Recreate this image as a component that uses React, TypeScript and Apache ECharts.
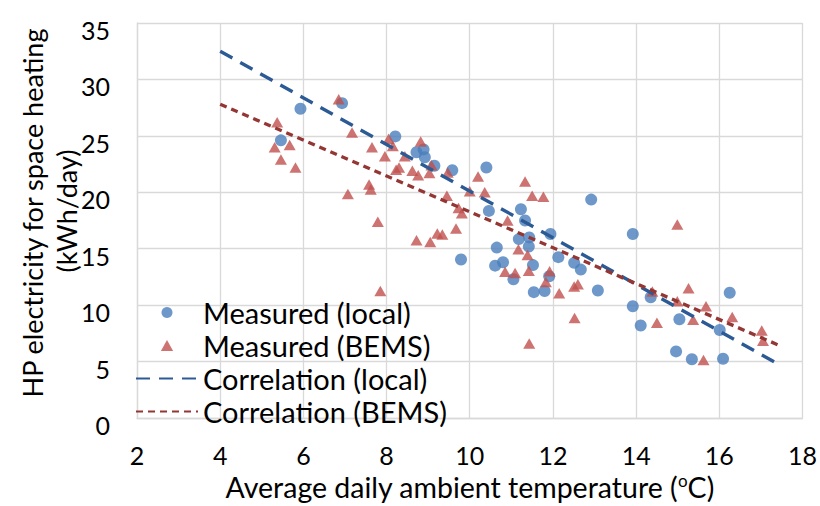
import React, { useEffect, useRef } from "react";
import * as echarts from "echarts";

// Measured (local): [temperature °C, kWh/day]
const measuredLocal: [number, number][] = [
  [5.46, 24.6], [5.93, 27.4], [6.93, 27.9], [8.21, 24.95], [8.72, 23.55],
  [8.89, 23.8], [8.92, 23.1], [9.15, 22.35], [9.58, 21.95], [10.4, 22.2],
  [10.46, 18.35], [11.23, 18.5], [11.33, 17.5], [11.94, 16.3], [11.18, 15.85],
  [11.43, 16.0], [11.42, 15.2], [10.65, 15.1], [9.79, 14.05], [10.61, 13.5],
  [10.8, 13.8], [11.52, 13.55], [12.13, 14.25], [12.51, 13.75], [12.67, 13.15],
  [11.05, 12.3], [11.91, 12.55], [11.54, 11.15], [11.8, 11.25], [12.92, 19.35],
  [13.92, 16.3], [13.08, 11.3], [13.92, 9.9], [14.11, 8.2], [14.35, 10.7],
  [15.04, 8.75], [14.96, 5.9], [16.25, 11.1], [16.01, 7.8], [15.34, 5.2],
  [16.09, 5.25],
];

// Measured (BEMS)
const measuredBems: [number, number][] = [
  [5.37, 26.2], [5.31, 24.0], [5.67, 24.2], [5.46, 22.9], [5.81, 22.2],
  [6.85, 28.25], [7.17, 25.3], [7.07, 19.85], [7.58, 20.7], [7.62, 20.25],
  [7.65, 24.0], [7.79, 17.4], [7.85, 11.25], [8.05, 24.75], [8.15, 24.1],
  [7.96, 23.2], [8.44, 23.2], [8.23, 22.0], [8.3, 22.2], [8.62, 21.9],
  [8.76, 21.5], [8.82, 24.5], [9.08, 22.4], [9.03, 21.7], [9.47, 21.75],
  [10.2, 21.4], [10.0, 20.1], [10.36, 20.0], [9.45, 19.7], [11.33, 20.95],
  [11.5, 19.7], [11.77, 19.6], [9.73, 18.6], [9.81, 18.15], [9.67, 16.8],
  [10.91, 17.5], [9.22, 16.35], [9.34, 16.25], [8.72, 15.75], [9.05, 15.6],
  [11.17, 14.95], [11.39, 14.45], [10.85, 12.95], [11.09, 12.85], [11.42, 13.05],
  [11.92, 13.0], [11.83, 12.05], [12.15, 11.05], [12.51, 11.65], [12.6, 11.85],
  [12.52, 8.85], [11.43, 6.6], [14.99, 17.15], [14.39, 11.2], [14.5, 8.45],
  [14.99, 10.35], [15.26, 11.5], [15.68, 9.9], [15.37, 8.7], [16.31, 8.95],
  [17.02, 7.75], [17.05, 6.85], [15.62, 5.15],
];

// Correlation lines (end points)
const correlationLocal: [number, number][] = [[4, 32.5], [17.5, 4.6]];
const correlationBems: [number, number][] = [[4, 27.8], [17.4, 6.5]];

const seriesNames = [
  "Measured (local)",
  "Measured (BEMS)",
  "Correlation (local)",
  "Correlation (BEMS)",
];
const yTitleLines = ["HP electricity for space heating", "(kWh/day)"];

const FONT = "Lato";
const TRIANGLE_ICON = "path://M5,0L10,9L0,9Z";

export default function App() {
  const ref = useRef<HTMLDivElement>(null);
  useEffect(() => {
    if (!ref.current) return;
    const chart = echarts.init(ref.current, null, { renderer: "svg" });
    chart.setOption({
      animation: false,
      backgroundColor: "#ffffff",
      textStyle: { fontFamily: FONT },
      grid: { left: 137, right: 16, top: 23, bottom: 78, containLabel: false },
      xAxis: {
        type: "value",
        min: 2,
        max: 18,
        interval: 2,
        axisLine: { show: true, lineStyle: { color: "#d9d9d9", width: 1.3 } },
        axisTick: { show: false },
        splitLine: { show: true, lineStyle: { color: "#d9d9d9", width: 1.3 } },
        axisLabel: { color: "#000", fontSize: 25, fontFamily: FONT, margin: 24 },
        name: "Average daily ambient temperature ({sup|o}C)",
        nameLocation: "middle",
        nameGap: 54,
        nameTextStyle: {
          color: "#000",
          fontSize: 28.5,
          fontFamily: FONT,
          rich: {
            sup: { fontSize: 17, fontFamily: FONT, color: "#000", verticalAlign: "top", padding: [0, 0, 12, 0] },
          },
        },
      },
      yAxis: {
        type: "value",
        min: 0,
        max: 35,
        interval: 5,
        axisLine: { show: true, lineStyle: { color: "#d9d9d9", width: 1.3 } },
        axisTick: { show: false },
        splitLine: { show: true, lineStyle: { color: "#d9d9d9", width: 1.3 } },
        axisLabel: {
          color: "#000",
          fontSize: 25,
          fontFamily: FONT,
          margin: 27,
          verticalAlign: "top",
          lineHeight: 14,
        },
      },
      legend: {
        orient: "vertical",
        left: 135,
        top: 296,
        padding: 0,
        itemGap: 0,
        itemWidth: 62,
        itemHeight: 11,
        data: [
          { name: seriesNames[0], icon: "circle" },
          { name: seriesNames[1], icon: TRIANGLE_ICON },
          { name: seriesNames[2], itemStyle: { opacity: 0 } },
          { name: seriesNames[3], itemStyle: { opacity: 0 } },
        ],
        textStyle: { color: "#000", fontSize: 29, fontFamily: FONT, lineHeight: 33 },
      },
      graphic: [
        {
          type: "text",
          x: 32,
          y: 213,
          rotation: Math.PI / 2,
          style: {
            text: yTitleLines[0],
            fontSize: 27,
            fontFamily: FONT,
            fill: "#000",
            align: "center",
            verticalAlign: "middle",
          },
        },
        {
          type: "text",
          x: 66,
          y: 211,
          rotation: Math.PI / 2,
          style: {
            text: yTitleLines[1],
            fontSize: 27,
            fontFamily: FONT,
            fill: "#000",
            align: "center",
            verticalAlign: "middle",
          },
        },
      ],
      series: [
        {
          name: seriesNames[0],
          type: "scatter",
          data: measuredLocal,
          symbol: "circle",
          symbolSize: 12,
          itemStyle: { color: "#4a7ebb" },
          z: 2,
        },
        {
          name: seriesNames[1],
          type: "scatter",
          data: measuredBems,
          symbol: "triangle",
          symbolSize: [12, 10.5],
          itemStyle: { color: "#c0504d" },
          z: 3,
        },
        {
          name: seriesNames[2],
          type: "line",
          data: correlationLocal,
          symbol: "none",
          lineStyle: { color: "#2c5a95", width: 3.3, type: [14, 9] },
          itemStyle: { color: "#2c5a95" },
          z: 4,
        },
        {
          name: seriesNames[3],
          type: "line",
          data: correlationBems,
          symbol: "none",
          lineStyle: { color: "#943634", width: 3.3, type: [7, 5] },
          itemStyle: { color: "#943634" },
          z: 4,
        },
      ],
    });
    return () => chart.dispose();
  }, []);
  return (
    <div
      ref={ref}
      style={{ position: "absolute", left: 0, top: 0, width: 820, height: 506 }}
    />
  );
}
